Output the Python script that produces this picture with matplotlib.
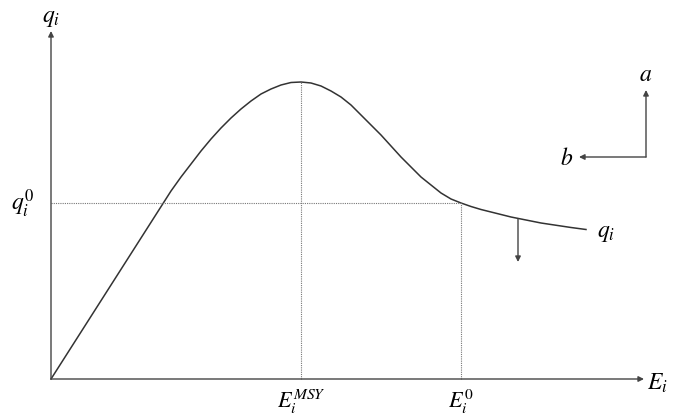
import matplotlib.pyplot as plt
import numpy as np

plt.rcParams["mathtext.fontset"] = "stix"

# curve q_i(E_i)
effort = [0, 60, 120, 130, 140, 150, 160, 170, 180, 190, 200, 210, 220, 230,
          240, 250, 260, 270, 280, 290, 300, 310, 320, 330, 340, 350, 360,
          370, 380, 390, 400, 410, 420, 430, 440, 450, 460, 470, 480, 490,
          500, 510, 520, 535]
catch = [0, 94, 188, 202, 215, 228, 240, 251, 261, 270, 278, 285, 290, 294,
         296.5, 297, 296, 293, 288, 282, 274, 264, 254, 244, 233, 222, 212,
         202, 194, 186, 180, 176, 172.5, 169.5, 167, 164.5, 162, 160, 158,
         156, 154.5, 153, 151.5, 149.5]

e_msy = 250
q_msy = 297
e_0 = 410
q_0 = 176
e_max = 593
q_max = 348

fig = plt.figure(figsize=(6.84, 4.19), dpi=100)
ax = fig.add_axes([0, 0, 1, 1])
ax.set_xlim(-51, 633)
ax.set_ylim(-40, 379)
ax.axis("off")

arrow = dict(arrowstyle="-|>", color="#444444", lw=1.0, mutation_scale=8,
             shrinkA=0, shrinkB=0)

# axes
ax.annotate("", xy=(e_max, 0), xytext=(0, 0), arrowprops=arrow)
ax.annotate("", xy=(0, q_max), xytext=(0, 0), arrowprops=arrow)

# curve
ax.plot(effort, catch, color="#333333", lw=1.1, solid_joinstyle="round")

# dotted guides
dot = dict(color="#777777", lw=0.8, ls=(0, (1, 1)))
ax.plot([0, e_0], [q_0, q_0], **dot)
ax.plot([e_msy, e_msy], [0, q_msy], **dot)
ax.plot([e_0, e_0], [0, q_0], **dot)

# downward shift arrow
ax.annotate("", xy=(467, 117), xytext=(467, 160), arrowprops=arrow)

# direction key
ax.annotate("", xy=(595, 289), xytext=(595, 222), arrowprops=arrow)
ax.annotate("", xy=(528, 222), xytext=(595, 222), arrowprops=arrow)

fs = 17
ax.text(0, 362, r"$q_i$", fontsize=fs, ha="center", va="center")
ax.text(-28, 175, r"$q_i^0$", fontsize=fs, ha="center", va="center")
ax.text(e_max + 13, -4, r"$E_i$", fontsize=fs, ha="center", va="center")
ax.text(e_msy, -23, r"$E_i^{MSY}$", fontsize=16, ha="center", va="center")
ax.text(e_0, -23, r"$E_i^0$", fontsize=16, ha="center", va="center")
ax.text(546, 147, r"$q_i$", fontsize=fs, ha="left", va="center")
ax.text(595, 305, r"$a$", fontsize=fs, ha="center", va="center")
ax.text(516, 221, r"$b$", fontsize=fs, ha="center", va="center")

plt.savefig("out.png", dpi=100)
